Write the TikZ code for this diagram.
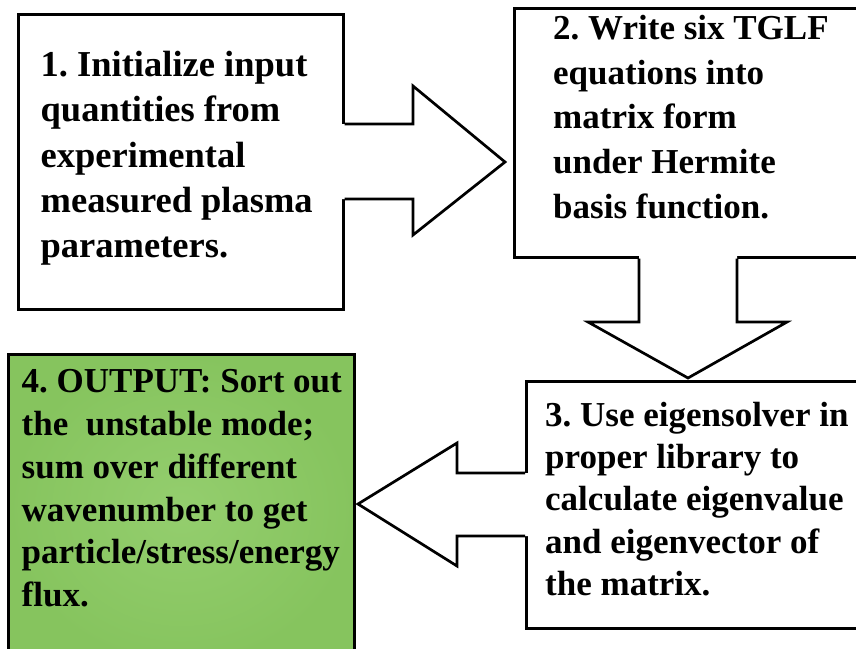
\documentclass[tikz,border=0pt]{standalone}
\usepackage{fontspec}
\setmainfont{Liberation Serif}
\usetikzlibrary{calc}
\frenchspacing
\definecolor{greenin}{RGB}{148,206,110}
\definecolor{greenout}{RGB}{134,196,94}
\newcommand\boxtext[3]{\parbox[t]{12cm}{\fontsize{#1}{#2}\selectfont\bfseries\frenchspacing\raggedright #3}}
\tikzset{
  stepbox/.style={draw=black, line width=2.7pt, fill=white, rectangle, inner sep=0pt, anchor=north west},
  outbox/.style={draw=black, line width=2.6pt, rectangle, inner sep=0pt, anchor=north west,
     inner color=greenin, outer color=greenout},
  blockarrow/.style={draw=black, line width=2.7pt, line join=miter},
  txt/.style={inner sep=0pt, anchor=base west}
}
\begin{document}
\begin{tikzpicture}[x=1pt,y=-1pt]
\useasboundingbox (0,0) rectangle (856,648);
\clip (0,0) rectangle (856,648);
% boxes
\node[stepbox, minimum width=325pt, minimum height=295pt] (b1) at (17,13) {};
\node[stepbox, minimum width=360pt, minimum height=249pt] (b2) at (513,7) {};
\node[stepbox, minimum width=350pt, minimum height=247pt] (b3) at (525,380) {};
\node[outbox, minimum width=346pt, minimum height=310pt] (b4) at (7,353) {};
% arrow 1 : b1 -> b2
\coordinate (a1) at (b1.east |- 0,124);
\coordinate (a1b) at (b1.east |- 0,199);
\fill[white] ($(a1)+(-3,0)$) -- (413,124) -- (413,86) -- (505,162) -- (413,235) -- (413,199) -- ($(a1b)+(-3,0)$) -- cycle;
\draw[blockarrow] (a1) -- (413,124) -- (413,86) -- (505,162) -- (413,235) -- (413,199) -- (a1b);
% arrow 2 : b2 -> b3
\coordinate (a2) at (b2.south -| 639,0);
\coordinate (a2b) at (b2.south -| 737,0);
\fill[white] ($(a2)+(0,-3)$) -- (639,322) -- (588,322) -- (688,378) -- (787,322) -- (737,322) -- ($(a2b)+(0,-3)$) -- cycle;
\draw[blockarrow] (a2) -- (639,322) -- (588,322) -- (688,378) -- (787,322) -- (737,322) -- (a2b);
% arrow 3 : b3 -> b4
\coordinate (a3) at (b3.west |- 0,473);
\coordinate (a3b) at (b3.west |- 0,536);
\fill[white] ($(a3)+(3,0)$) -- (457,473) -- (457,443) -- (358,504) -- (457,566) -- (457,536) -- ($(a3b)+(3,0)$) -- cycle;
\draw[blockarrow] (a3) -- (457,473) -- (457,443) -- (358,504) -- (457,566) -- (457,536) -- (a3b);
% texts
\node[txt] (t1) at (40.5,76.7) {\boxtext{36.5}{45.25}{1. Initialize input\\quantities from\\experimental\\measured plasma\\parameters.}};
\node[txt] (t2) at (553,39.3) {\boxtext{35}{44.75}{2. Write six TGLF\\equations into\\matrix form\\under Hermite\\basis function.}};
\node[txt] (t3) at (545,426.7) {\boxtext{35}{42.1}{3. Use eigensolver in\\proper library to\\calculate eigenvalue\\and eigenvector of\\the matrix.}};
\node[txt] (t4) at (21.5,392.7) {\boxtext{35}{42.8}{4. OUTPUT: Sort out\\the\ \ unstable mode;\\sum over different\\wavenumber to get\\particle/stress/energy\\flux.}};
\end{tikzpicture}
\end{document}
